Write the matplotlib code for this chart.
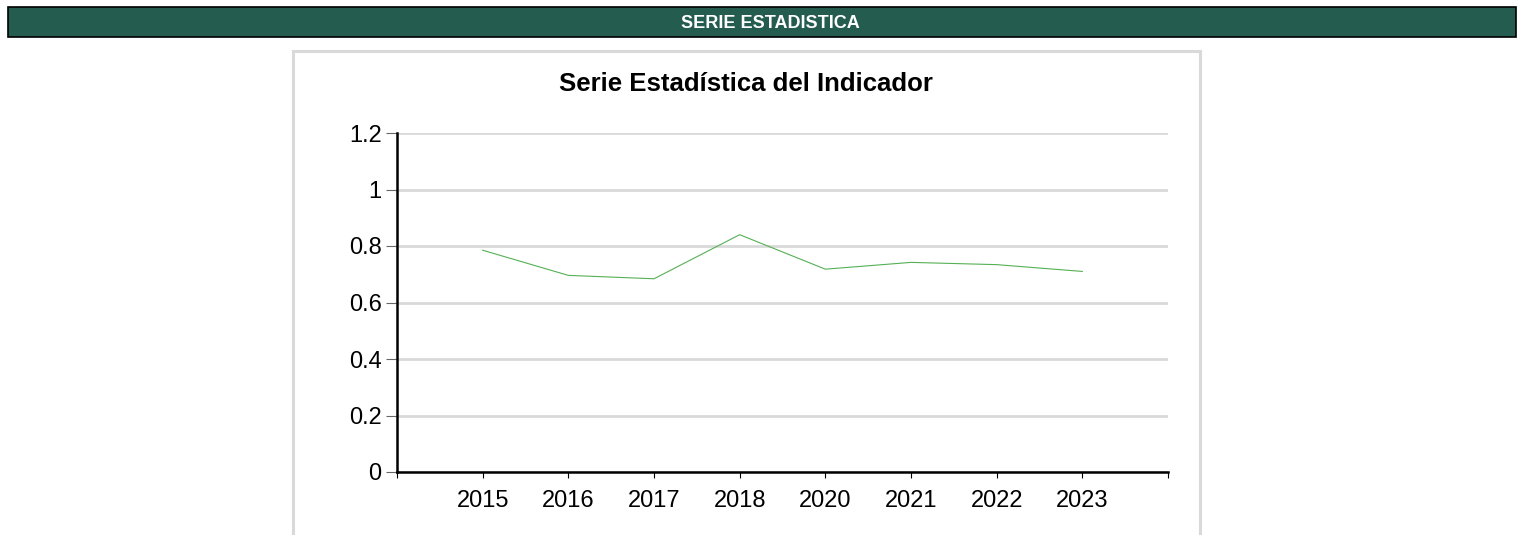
import matplotlib
matplotlib.use('Agg')
import matplotlib.pyplot as plt
from matplotlib.patches import Rectangle

plt.rcParams['font.family'] = ['Liberation Sans', 'DejaVu Sans']

# datos
years = ['2015', '2016', '2017', '2018', '2020', '2021', '2022', '2023']
values = [0.785, 0.696, 0.684, 0.840, 0.718, 0.742, 0.734, 0.710]
y_ticks = [0, 0.2, 0.4, 0.6, 0.8, 1.0, 1.2]
y_labels = ['0', '0.2', '0.4', '0.6', '0.8', '1', '1.2']

fig = plt.figure(figsize=(15.24, 5.35), dpi=100)

# barra de encabezado
W, H = 1524, 535
fig.patches.append(Rectangle((8 / W, 1 - 37 / H), 1508 / W, 30 / H, transform=fig.transFigure,
                             facecolor='#245c4f', edgecolor='black', linewidth=1.2, zorder=-2))
fig.text(770 / W, 1 - 24 / H, 'SERIE ESTADISTICA', color='white', fontsize=13,
         fontweight='bold', ha='center', va='center')

# marco del grafico
fig.patches.append(Rectangle((293 / W, -0.05), 907 / W, 1 - 51 / H + 0.05, transform=fig.transFigure,
                             facecolor='white', edgecolor='#d9d9d9', linewidth=2.2, zorder=-2))
fig.text(746 / W, 1 - 84 / H, 'Serie Estadística del Indicador', fontsize=18.5,
         fontweight='bold', ha='center', va='center')

ax = fig.add_axes([397 / W, 1 - 472 / H, (1168 - 397) / W, 339 / H])
ax.set_zorder(2)
x = list(range(1, len(years) + 1))
ax.plot(x, values, color='#55b055', linewidth=0.8, zorder=3)

ax.set_xlim(0, len(years) + 1)
ax.set_ylim(0, 1.2)
ax.set_xticks(range(0, len(years) + 2))
ax.set_xticklabels([''] + years + [''])
ax.set_yticks(y_ticks)
ax.set_yticklabels(y_labels)
ax.grid(axis='y', color='#d9d9d9', linewidth=2)
ax.set_axisbelow(True)

for s in ['top', 'right']:
    ax.spines[s].set_visible(False)
ax.spines['left'].set_linewidth(1.8)
ax.spines['bottom'].set_linewidth(1.8)
ax.tick_params(axis='x', length=4, width=0.8, pad=9, labelsize=17)
ax.tick_params(axis='y', length=8, width=0.8, color='#666666', pad=3, labelsize=17)
ax.patch.set_alpha(0)

fig.savefig('out.png', dpi=100)
